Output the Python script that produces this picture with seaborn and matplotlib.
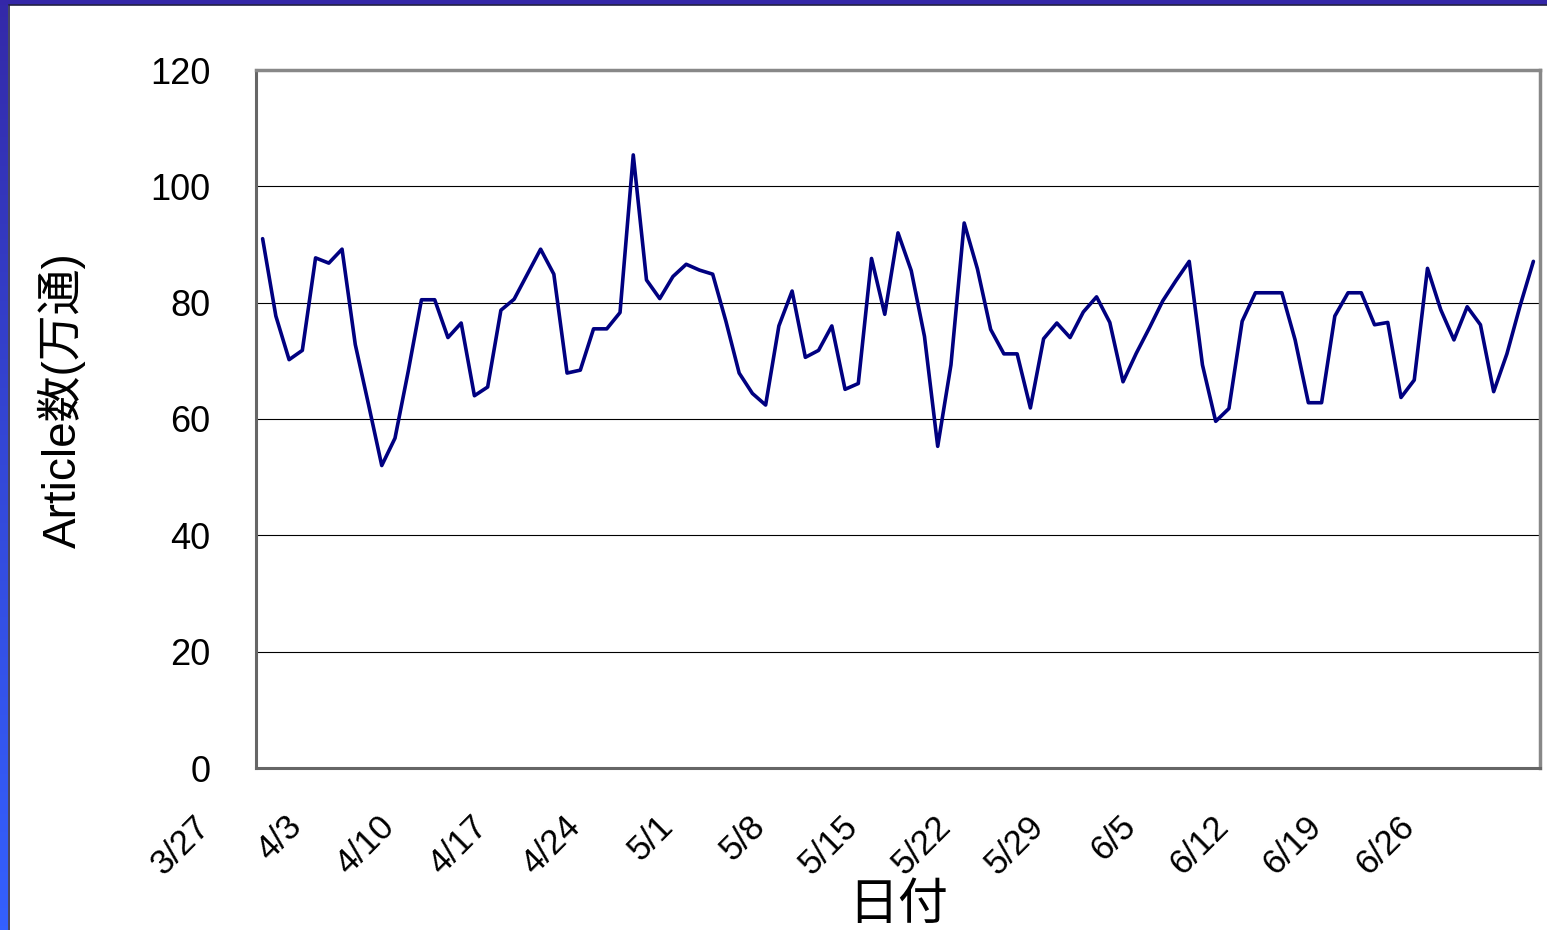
import numpy as np
import matplotlib
matplotlib.use("Agg")
import matplotlib.pyplot as plt
from matplotlib.transforms import ScaledTranslation
import seaborn as sns

# 3/27 から 7/1 までの日次 Article 数 (万通)
articles = [
    91.0, 77.7, 70.2, 71.8, 87.7, 86.8, 89.2, 72.8, 62.5, 52.0,
    56.7, 68.2, 80.5, 80.5, 74.0, 76.5, 64.0, 65.5, 78.7, 80.6,
    84.9, 89.2, 84.9, 67.9, 68.4, 75.5, 75.5, 78.3, 105.4, 83.9,
    80.7, 84.5, 86.6, 85.6, 84.9, 76.8, 67.9, 64.4, 62.4, 76.0,
    82.0, 70.6, 71.8, 76.0, 65.1, 66.1, 87.6, 78.0, 92.0, 85.5,
    74.2, 55.3, 69.3, 93.7, 85.8, 75.4, 71.2, 71.2, 61.9, 73.8,
    76.5, 74.0, 78.4, 81.0, 76.6, 66.4, 71.3, 75.7, 80.3, 83.8,
    87.1, 69.3, 59.6, 61.8, 76.8, 81.7, 81.7, 81.7, 73.6, 62.8,
    62.8, 77.7, 81.7, 81.7, 76.2, 76.6, 63.7, 66.7, 85.9, 78.8,
    73.6, 79.3, 76.2, 64.7, 71.2, 79.5, 87.1,
]
days = np.arange(len(articles))

# 週ごとのラベル
week_labels = ['3/27', '4/3', '4/10', '4/17', '4/24', '5/1', '5/8',
               '5/15', '5/22', '5/29', '6/5', '6/12', '6/19', '6/26']
y_ticks = [0, 20, 40, 60, 80, 100, 120]

sns.set_style("white")
plt.rcParams['font.family'] = ['Liberation Sans', 'Noto Sans CJK JP', 'DejaVu Sans']
plt.rcParams['text.color'] = 'black'
plt.rcParams['xtick.labelcolor'] = 'black'
plt.rcParams['ytick.labelcolor'] = 'black'
plt.rcParams['axes.labelcolor'] = 'black'

W, H = 1547, 930
fig = plt.figure(figsize=(W / 100, H / 100), dpi=100)
fig.patch.set_facecolor('white')

# 左と上の青い枠
left_bar = fig.add_axes([0, 0, 8 / W, 1])
grad = np.linspace(0, 1, 256).reshape(-1, 1)
cmap = matplotlib.colors.LinearSegmentedColormap.from_list(
    'frame', ['#3360ff', '#3348d8', '#3429a8'])
left_bar.imshow(grad, aspect='auto', cmap=cmap, origin='lower', extent=[0, 1, 0, 1])
left_bar.axis('off')
top_bar = fig.add_axes([0, 1 - 5 / H, 1, 5 / H])
top_bar.set_facecolor('#3427a8')
top_bar.set_xticks([])
top_bar.set_yticks([])
for s in top_bar.spines.values():
    s.set_visible(False)
fig.add_artist(plt.Line2D([8.5 / W, 8.5 / W], [0, 1 - 5 / H], color='#222244', lw=1.2))
fig.add_artist(plt.Line2D([8.5 / W, 1], [1 - 5.5 / H, 1 - 5.5 / H], color='#222244', lw=1.2))

ax = fig.add_axes([256 / W, 1 - 768 / H, (1540 - 256) / W, (768 - 70) / H])
sns.lineplot(x=days, y=articles, ax=ax, color='#000080', linewidth=2.6)

ax.set_xlim(-0.5, len(articles) - 0.5)
ax.set_ylim(0, 120)
ax.set_yticks(y_ticks)
ax.set_yticklabels([str(v) for v in y_ticks], fontsize=26)
ax.yaxis.grid(True, color='black', linewidth=0.8)
ax.set_axisbelow(True)

ax.set_xticks(np.arange(len(week_labels)) * 7 - 0.5)
ax.set_xticklabels(week_labels, fontsize=25, rotation=45, ha='right', va='top')
ax.tick_params(axis='y', direction='in', length=7, width=1.2, color='#333333', pad=33)
ax.tick_params(axis='x', direction='in', length=5, width=1.0, color='#333333', pad=30)
offset = ScaledTranslation(-0.40, 0, fig.dpi_scale_trans)
for lab in ax.get_xticklabels():
    lab.set_transform(lab.get_transform() + offset)

for side in ['top', 'right']:
    ax.spines[side].set_color('#888888')
    ax.spines[side].set_linewidth(2.5)
for side in ['left', 'bottom']:
    ax.spines[side].set_color('#666666')
    ax.spines[side].set_linewidth(2.2)

ax.set_ylabel('Article数(万通)', fontsize=33)
ax.yaxis.label.set_va('center')
ax.yaxis.set_label_coords(-0.151, 0.527)
ax.set_xlabel('日付', fontsize=36, family=['Noto Sans CJK JP', 'DejaVu Sans'])
ax.xaxis.label.set_va('center')
ax.xaxis.set_label_coords(0.5, -0.196)

fig.savefig('out.png', dpi=100)
